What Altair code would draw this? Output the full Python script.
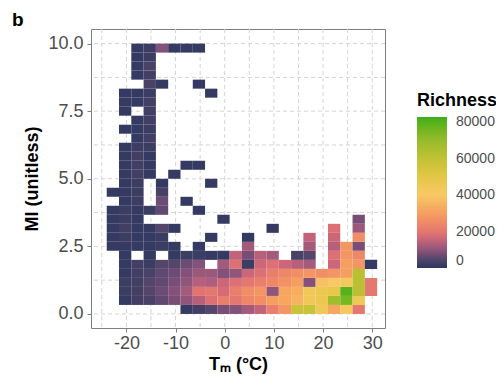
import altair as alt
import pandas as pd

# Grid of bins: 22 temperature columns (2.5 °C wide, starting at -24 °C)
# and 30 moisture-index rows (1/3 unit tall, starting at 0).
X0 = -24.0
DX = 2.5
DY = 1.0 / 3.0

# Richness per cell, in thousands (0 = no cell). Columns c0..c21.
row_29 = [0, 0, 1, 2, 9, 1, 1, 1, 0, 0, 0, 0, 0, 0, 0, 0, 0, 0, 0, 0, 0, 0]
row_28 = [0, 0, 1, 2, 0, 0, 0, 0, 0, 0, 0, 0, 0, 0, 0, 0, 0, 0, 0, 0, 0, 0]
row_27 = [0, 0, 1, 4, 0, 0, 0, 0, 0, 0, 0, 0, 0, 0, 0, 0, 0, 0, 0, 0, 0, 0]
row_26 = [0, 0, 1, 3, 0, 0, 0, 0, 0, 0, 0, 0, 0, 0, 0, 0, 0, 0, 0, 0, 0, 0]
row_25 = [0, 0, 0, 4, 1, 0, 0, 1, 0, 0, 0, 0, 0, 0, 0, 0, 0, 0, 0, 0, 0, 0]
row_24 = [0, 1, 1, 2, 0, 0, 0, 0, 1, 0, 0, 0, 0, 0, 0, 0, 0, 0, 0, 0, 0, 0]
row_23 = [0, 1, 1, 3, 0, 0, 0, 0, 0, 0, 0, 0, 0, 0, 0, 0, 0, 0, 0, 0, 0, 0]
row_22 = [0, 1, 0, 3, 0, 0, 0, 0, 0, 0, 0, 0, 0, 0, 0, 0, 0, 0, 0, 0, 0, 0]
row_21 = [0, 0, 1, 3, 0, 0, 0, 0, 0, 0, 0, 0, 0, 0, 0, 0, 0, 0, 0, 0, 0, 0]
row_20 = [0, 1, 1, 2, 0, 0, 0, 0, 0, 0, 0, 0, 0, 0, 0, 0, 0, 0, 0, 0, 0, 0]
row_19 = [0, 0, 1, 3, 0, 0, 0, 0, 0, 0, 0, 0, 0, 0, 0, 0, 0, 0, 0, 0, 0, 0]
row_18 = [0, 1, 2, 2, 0, 0, 0, 0, 0, 0, 0, 0, 0, 0, 0, 0, 0, 0, 0, 0, 0, 0]
row_17 = [0, 1, 3, 1, 0, 0, 0, 0, 0, 0, 0, 0, 0, 0, 0, 0, 0, 0, 0, 0, 0, 0]
row_16 = [0, 1, 3, 1, 0, 0, 1, 1, 0, 0, 0, 0, 0, 0, 0, 0, 0, 0, 0, 0, 0, 0]
row_15 = [0, 1, 3, 1, 0, 1, 0, 0, 0, 0, 0, 0, 0, 0, 0, 0, 0, 0, 0, 0, 0, 0]
row_14 = [0, 1, 2, 0, 1, 0, 0, 0, 1, 0, 0, 0, 0, 0, 0, 0, 0, 0, 0, 0, 0, 0]
row_13 = [1, 1, 2, 0, 4, 0, 0, 0, 0, 0, 0, 0, 0, 0, 0, 0, 0, 0, 0, 0, 0, 0]
row_12 = [0, 1, 2, 0, 7, 0, 1, 0, 0, 0, 0, 0, 0, 0, 0, 0, 0, 0, 0, 0, 0, 0]
row_11 = [1, 2, 1, 2, 6, 0, 0, 1, 0, 0, 0, 0, 0, 0, 0, 0, 0, 0, 0, 0, 0, 0]
row_10 = [1, 2, 1, 0, 0, 0, 0, 0, 0, 1, 0, 0, 0, 0, 0, 0, 0, 0, 0, 0, 8, 0]
row_9 = [1, 3, 1, 1, 5, 1, 0, 0, 0, 0, 0, 0, 0, 1, 0, 0, 0, 0, 18, 0, 11, 0]
row_8 = [1, 2, 1, 1, 2, 0, 0, 0, 1, 0, 0, 1, 0, 0, 0, 0, 15, 0, 16, 0, 26, 0]
row_7 = [1, 1, 1, 1, 2, 1, 0, 1, 0, 0, 0, 12, 0, 0, 0, 0, 12, 0, 14, 28, 8, 0]
row_6 = [0, 1, 0, 1, 0, 1, 2, 2, 1, 1, 15, 8, 14, 12, 0, 4, 5, 0, 18, 28, 24, 0]
row_5 = [0, 1, 3, 2, 5, 5, 7, 9, 0, 12, 18, 2, 16, 18, 16, 14, 12, 0, 16, 30, 28, 1]
row_4 = [0, 1, 3, 4, 6, 7, 9, 11, 11, 9, 10, 16, 18, 22, 24, 26, 28, 26, 28, 30, 62, 0]
row_3 = [0, 2, 3, 5, 6, 8, 10, 14, 13, 16, 18, 20, 22, 24, 27, 30, 9, 38, 40, 42, 62, 20]
row_2 = [0, 2, 3, 5, 7, 9, 12, 19, 20, 17, 22, 26, 28, 10, 32, 34, 44, 46, 48, 80, 62, 20]
row_1 = [0, 1, 3, 4, 6, 8, 10, 14, 18, 22, 20, 24, 26, 30, 32, 35, 44, 46, 68, 75, 45, 0]
row_0 = [0, 0, 0, 0, 0, 0, 1, 3, 5, 8, 9, 12, 15, 22, 28, 58, 58, 45, 32, 42, 20, 0]

rows = [row_0, row_1, row_2, row_3, row_4, row_5, row_6, row_7, row_8, row_9,
        row_10, row_11, row_12, row_13, row_14, row_15, row_16, row_17, row_18,
        row_19, row_20, row_21, row_22, row_23, row_24, row_25, row_26, row_27,
        row_28, row_29]

x_ticks = [-20, -10, 0, 10, 20, 30]
y_ticks = [0, 2.5, 5, 7.5, 10]
grid_x = [-25, -20, -15, -10, -5, 0, 5, 10, 15, 20, 25, 30]
grid_y = [0, 1.25, 2.5, 3.75, 5, 6.25, 7.5, 8.75, 10]
legend_values = [0, 20000, 40000, 60000, 80000]

color_stops = [0, 4000, 11000, 18500, 26000, 33000, 40000, 48000, 59000, 70000, 83000]
color_range = ["#2c385f", "#4a4266", "#9a587a", "#e07272", "#f18e65", "#f6aa5e",
               "#f9c866", "#e8c84a", "#c6c238", "#96bc2c", "#3caf1a"]

recs = []
for r, vals in enumerate(rows):
    for c, v in enumerate(vals):
        if v > 0:
            recs.append({
                "tm": X0 + DX * c, "tm2": X0 + DX * (c + 1),
                "mi": r * DY, "mi2": (r + 1) * DY,
                "richness": v * 1000,
            })
df = pd.DataFrame(recs)

xscale = alt.Scale(domain=[-27.2, 32.6], nice=False, zero=False)
yscale = alt.Scale(domain=[-0.52, 10.54], nice=False, zero=False)

FONT = "Liberation Sans"

vgrid = alt.Chart(pd.DataFrame({"gx": grid_x})).mark_rule(
    color="#d4d4d4", strokeDash=[4, 3], strokeWidth=1
).encode(x=alt.X("gx:Q", scale=xscale, axis=None))

hgrid = alt.Chart(pd.DataFrame({"gy": grid_y})).mark_rule(
    color="#d4d4d4", strokeDash=[4, 3], strokeWidth=1
).encode(y=alt.Y("gy:Q", scale=yscale, axis=None))

tiles = alt.Chart(df).mark_rect(stroke=None).encode(
    x=alt.X("tm:Q", scale=xscale, axis=alt.Axis(
        values=x_ticks, grid=False, domain=False, tickColor="#7f7f7f", tickSize=4,
        labelFont=FONT, labelFontSize=18, labelColor="#4d4d4d", labelPadding=2,
        labelExpr="replace(datum.label, '\u2212', '-')",
        title="T\u2098 (\u00b0C)", titleFont=FONT, titleFontSize=18,
        titleFontWeight="bold", titleColor="black", titlePadding=3)),
    x2="tm2:Q",
    y=alt.Y("mi:Q", scale=yscale, axis=alt.Axis(
        values=y_ticks, format=".1f", grid=False, domain=False, tickColor="#7f7f7f",
        tickSize=4, labelFont=FONT, labelFontSize=18, labelColor="#4d4d4d",
        labelPadding=4, title="MI (unitless)", titleFont=FONT, titleFontSize=18,
        titleFontWeight="bold", titleColor="black", titlePadding=6)),
    y2="mi2:Q",
    color=alt.Color("richness:Q",
                    scale=alt.Scale(domain=color_stops, range=color_range),
                    legend=alt.Legend(
                        title="Richness", orient="none", legendX=326, legendY=63,
                        direction="vertical", gradientLength=151,
                        gradientThickness=30, gradientStrokeWidth=0,
                        values=legend_values, format="d",
                        labelFont=FONT, labelFontSize=14, labelColor="#4d4d4d",
                        labelOffset=9, titleFont=FONT, titleFontSize=18,
                        titleFontWeight="bold", titleColor="black",
                        titlePadding=7, padding=0)),
)

chart = alt.layer(vgrid, hgrid, tiles).resolve_axis(
    x="independent", y="independent"
).properties(
    width=294, height=299,
    autosize=alt.AutoSizeParams(type="none"),
    padding={"left": 83, "top": 21, "right": 111, "bottom": 47},
    title=alt.TitleParams("b", anchor="start", frame="group", fontSize=19,
                          fontWeight="bold", font=FONT, color="black",
                          dx=-79, dy=5, offset=4),
).configure_view(stroke="#7f7f7f", strokeWidth=1)

chart.save("out.html", embed_options={"renderer": "svg", "actions": False})
